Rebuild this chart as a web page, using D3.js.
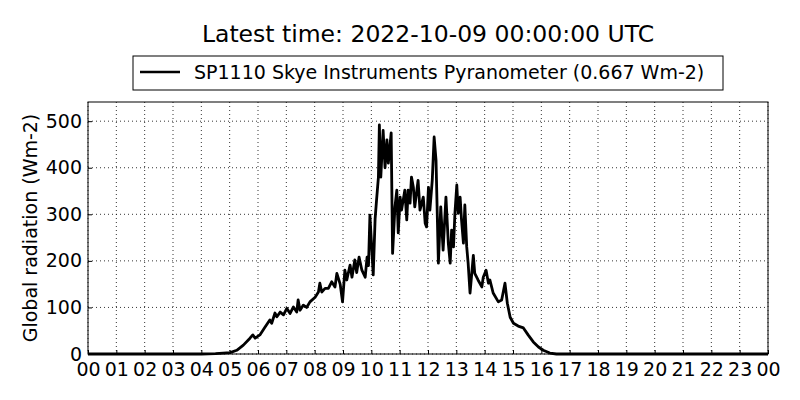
<!DOCTYPE html>
<html>
<head>
<meta charset="utf-8">
<script src="https://cdn.jsdelivr.net/npm/d3@7"></script>
<style>
  body { margin: 0; background: #fff; }
  svg { display: block; font-family: "DejaVu Sans", sans-serif; }
</style>
</head>
<body>
<svg id="chart"></svg>
<script>
const width = 800;
const height = 400;

// Data (time of day, global radiation in Wm-2)
const times = [
  "00:00", "04:00", "04:30", "04:46", "05:01", "05:15", "05:29", "05:43", "05:49", "05:54",
  "06:04", "06:15", "06:25", "06:29", "06:36", "06:40", "06:47", "06:54", "07:01", "07:08",
  "07:15", "07:22", "07:25", "07:29", "07:36", "07:43", "07:50", "08:01", "08:08", "08:11",
  "08:15", "08:22", "08:29", "08:36", "08:43", "08:47", "08:54", "08:59", "09:04", "09:08",
  "09:15", "09:19", "09:25", "09:29", "09:34", "09:40", "09:47", "09:51", "09:54", "09:57",
  "10:04", "10:08", "10:11", "10:15", "10:17", "10:20", "10:25", "10:29", "10:33", "10:36",
  "10:42", "10:45", "10:50", "10:54", "10:57", "11:01", "11:04", "11:11", "11:15", "11:18",
  "11:22", "11:25", "11:29", "11:32", "11:39", "11:43", "11:50", "11:54", "11:57", "12:01",
  "12:04", "12:09", "12:13", "12:17", "12:22", "12:27", "12:32", "12:38", "12:43", "12:47",
  "12:50", "12:54", "12:57", "13:01", "13:04", "13:08", "13:11", "13:15", "13:18", "13:22",
  "13:25", "13:29", "13:32", "13:36", "13:39", "13:46", "13:54", "13:57", "14:03", "14:08",
  "14:11", "14:18", "14:29", "14:36", "14:43", "14:48", "14:54", "15:01", "15:11", "15:22",
  "15:32", "15:43", "15:54", "16:04", "16:18", "16:32", "24:00"
];
const radiation = [
  0, 0, 1, 2, 3, 8, 19, 34, 41, 34,
  41, 58, 73, 66, 88, 80, 90, 84, 98, 87,
  101, 90, 116, 94, 105, 100, 112, 122, 133, 152,
  133, 141, 141, 155, 144, 173, 150, 112, 180, 159,
  191, 165, 202, 175, 208, 180, 165, 208, 190, 298,
  170, 290, 330, 380, 492, 380, 480, 400, 460, 410,
  475, 216, 316, 352, 260, 337, 309, 352, 288, 352,
  324, 380, 358, 316, 373, 309, 337, 281, 273, 358,
  309, 373, 466, 416, 195, 316, 223, 337, 238, 195,
  266, 230, 302, 363, 302, 337, 288, 238, 320, 230,
  195, 131, 165, 212, 173, 159, 144, 165, 180, 152,
  159, 131, 112, 116, 152, 109, 79, 66, 60, 56,
  41, 26, 15, 8, 2, 0, 0
];

const day = "2022-10-08";
const titleText = "Latest time: 2022-10-09 00:00:00 UTC";
const legendText = "SP1110 Skye Instruments Pyranometer (0.667 Wm-2)";
const yLabel = "Global radiation (Wm-2)";
const yTicks = [0, 100, 200, 300, 400, 500];

const margin = { top: 102, right: 32, bottom: 46, left: 88 };
const innerW = width - margin.left - margin.right;
const innerH = height - margin.top - margin.bottom;

const svg = d3.select("#chart").attr("width", width).attr("height", height);

const start = new Date(day + "T00:00:00Z");
const end = d3.utcDay.offset(start, 1);
const toDate = (t) => {
  const [hh, mm] = t.split(":").map(Number);
  return new Date(start.getTime() + (hh * 60 + mm) * 60000);
};
const data = times.map((t, i) => ({ date: toDate(t), value: radiation[i] }));

const x = d3.scaleUtc().domain([start, end]).range([0, innerW]);
const y = d3.scaleLinear()
  .domain([0, d3.max(radiation) * 1.1])
  .range([innerH, 0]);

const g = svg.append("g").attr("transform", `translate(${margin.left},${margin.top})`);

// grid
const hourTicks = d3.utcHour.range(start, d3.utcHour.offset(end, 1));
g.append("g")
  .selectAll("line")
  .data(hourTicks)
  .join("line")
  .attr("x1", (d) => x(d)).attr("x2", (d) => x(d))
  .attr("y1", 0).attr("y2", innerH)
  .attr("stroke", "#000").attr("stroke-width", 0.8)
  .attr("stroke-dasharray", "1,3");
g.append("g")
  .selectAll("line")
  .data(yTicks)
  .join("line")
  .attr("x1", 0).attr("x2", innerW)
  .attr("y1", (d) => y(d)).attr("y2", (d) => y(d))
  .attr("stroke", "#000").attr("stroke-width", 0.8)
  .attr("stroke-dasharray", "1,3");

// data line
const line = d3.line().x((d) => x(d.date)).y((d) => y(d.value));
g.append("path")
  .datum(data)
  .attr("fill", "none")
  .attr("stroke", "#000")
  .attr("stroke-width", 2.8)
  .attr("stroke-linejoin", "round")
  .attr("d", line);

// axes (ticks pointing inward, classic style)
const xAxis = g.append("g")
  .attr("transform", `translate(0,${innerH})`)
  .call(d3.axisBottom(x).tickValues(hourTicks).tickFormat(d3.utcFormat("%H"))
    .tickSizeInner(-4).tickSizeOuter(0).tickPadding(5));
const yAxis = g.append("g")
  .call(d3.axisLeft(y).tickValues(yTicks).tickSizeInner(-4).tickSizeOuter(0).tickPadding(6));
[xAxis, yAxis].forEach((a) => {
  a.select(".domain").remove();
  a.selectAll("text").style("font-size", "19px").style("font-family", "DejaVu Sans").attr("fill", "#000");
});
xAxis.selectAll("text").attr("dy", "0.9em");

// frame
g.append("rect")
  .attr("width", innerW).attr("height", innerH)
  .attr("fill", "none").attr("stroke", "#000").attr("stroke-width", 1);

// y label
svg.append("text")
  .attr("transform", `translate(37,${margin.top + innerH / 2}) rotate(-90)`)
  .attr("text-anchor", "middle")
  .style("font-size", "19px")
  .text(yLabel);

// title
svg.append("text")
  .attr("x", margin.left + innerW / 2)
  .attr("y", 42)
  .attr("text-anchor", "middle")
  .style("font-size", "23.5px")
  .text(titleText);

// legend
const legend = svg.append("g");
legend.append("rect")
  .attr("x", 133).attr("y", 56).attr("width", 590).attr("height", 34)
  .attr("fill", "#fff").attr("stroke", "#000").attr("stroke-width", 1);
legend.append("line")
  .attr("x1", 140).attr("x2", 180).attr("y1", 72).attr("y2", 72)
  .attr("stroke", "#000").attr("stroke-width", 2.5);
legend.append("text")
  .attr("x", 194).attr("y", 79)
  .style("font-size", "19px")
  .text(legendText);
</script>
</body>
</html>
